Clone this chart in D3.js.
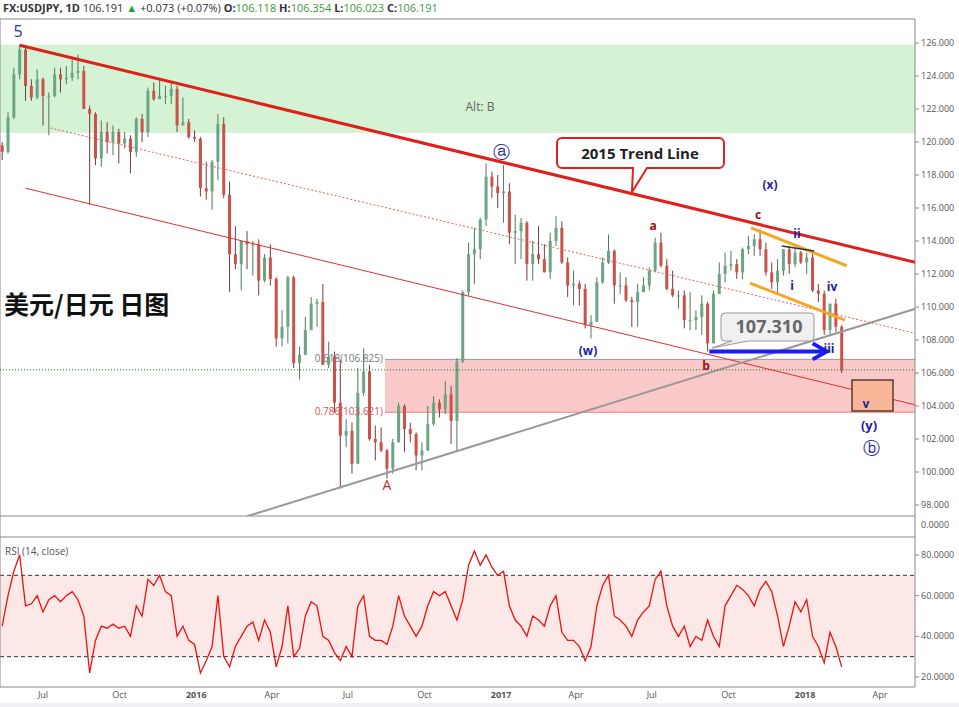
<!DOCTYPE html>
<html><head><meta charset="utf-8">
<script src="https://cdn.jsdelivr.net/npm/d3@7/dist/d3.min.js"></script>
<style>body{margin:0;background:#fff;font-family:"Open Sans",Arial,sans-serif}</style>
</head><body><svg id="c" width="959" height="707"></svg>
<script>
const firstWeek = "2015-05-11";
const ohlc = [
[119.8,120.0,118.9,119.4],[119.4,121.8,119.3,121.5],[121.5,124.5,121.4,124.1],[124.1,125.9,123.8,125.6],[125.6,125.8,122.5,123.4],[123.4,123.8,122.5,122.7],[122.7,124.4,122.6,123.8],[123.8,123.9,121.0,122.8],
[122.8,123.0,120.4,122.8],[122.8,124.5,122.7,124.1],[124.1,124.5,123.0,123.8],[123.8,124.6,123.5,123.9],[123.9,125.0,123.7,124.2],[124.2,125.3,123.8,124.3],[124.3,124.6,122.0,122.0],[122.0,122.2,116.2,121.7],[121.7,121.8,118.6,119.0],
[119.0,121.3,118.5,120.6],[120.6,121.2,119.3,120.0],[120.0,121.0,119.2,120.6],[120.6,120.8,118.7,119.9],[119.9,120.6,119.6,120.2],[120.2,120.4,118.1,119.4],[119.4,121.5,119.1,121.4],[121.4,121.7,120.0,120.6],
[120.6,123.3,120.3,123.1],[123.1,123.6,122.5,122.6],[122.6,123.8,122.6,122.8],[122.8,123.4,122.3,122.8],[122.8,123.7,122.3,123.2],[123.2,123.4,120.6,121.0],[121.0,122.7,121.0,121.2],[121.2,121.4,120.2,120.3],[120.3,120.7,120.0,120.2],
[120.2,120.3,116.7,117.2],[117.2,118.8,116.5,117.0],[117.0,118.9,115.9,118.8],[118.8,121.7,117.7,121.1],[121.1,121.5,116.6,116.8],[116.8,117.6,110.9,113.2],[113.2,114.9,112.3,112.6],[112.6,113.9,111.0,114.0],[114.0,114.6,112.3,113.8],
[113.8,114.0,111.9,113.8],[113.8,114.1,110.7,111.6],[111.6,113.2,111.5,113.0],[113.0,113.8,111.3,111.7],[111.7,111.8,107.6,108.1],[108.1,109.8,107.6,108.8],[108.8,111.9,107.8,111.8],[111.8,111.9,106.3,106.6],
[106.6,107.6,105.6,107.1],[107.1,109.4,107.1,108.6],[108.6,110.6,108.6,110.2],[110.2,110.5,108.8,110.3],[110.3,111.4,106.5,106.5],[106.5,107.9,106.3,107.0],[107.0,107.3,103.6,104.2],[104.2,106.8,99.0,102.2],[102.2,103.2,101.5,102.5],
[102.5,103.0,99.9,100.5],[100.5,106.3,100.5,104.8],[104.8,107.5,104.6,106.1],[106.1,106.5,101.9,102.0],[102.0,102.8,100.7,101.8],[101.8,102.7,101.2,101.3],[101.3,101.4,99.6,100.2],[100.2,102.0,99.9,101.8],[101.8,104.2,101.8,104.0],
[104.0,104.1,101.2,102.6],[102.6,103.0,101.8,102.3],[102.3,102.4,100.1,101.0],[101.0,101.8,100.1,101.3],[101.3,104.0,101.3,102.9],[102.9,104.6,102.8,104.2],[104.2,104.4,103.3,103.8],[103.8,105.5,103.5,104.7],[104.7,105.2,101.7,103.1],
[103.1,106.9,101.2,106.7],[106.7,111.0,106.6,110.9],[110.9,113.9,110.7,113.2],[113.2,114.8,111.4,113.5],[113.5,115.4,112.9,115.3],[115.3,118.7,114.9,117.9],[117.9,118.2,116.6,117.3],[117.3,118.0,116.0,116.9],
[116.9,118.6,115.1,117.0],[117.0,117.5,113.8,114.5],[114.5,115.6,112.6,114.6],[114.6,115.4,112.9,115.1],[115.1,115.2,111.6,112.6],[112.6,114.0,111.6,113.2],[113.2,114.9,112.6,112.9],[112.9,113.8,112.1,112.1],[112.1,114.5,111.7,114.0],
[114.0,115.5,113.7,114.8],[114.8,115.2,112.6,112.7],[112.7,113.0,110.6,111.3],[111.3,112.2,110.1,111.4],[111.4,111.6,110.1,111.1],[111.1,111.4,108.7,108.9],[108.9,109.5,108.1,109.1],[109.1,111.8,109.1,111.5],
[111.5,113.0,111.4,112.7],[112.7,114.4,112.6,113.4],[113.4,113.5,110.2,111.3],[111.3,112.1,110.8,111.3],[111.3,111.8,110.3,110.4],[110.4,110.6,108.8,110.3],[110.3,111.4,108.8,110.9],[110.9,111.8,110.9,111.3],[111.3,112.4,111.0,112.2],
[112.2,114.2,112.1,113.9],[113.9,114.5,112.4,112.5],[112.5,112.9,111.0,111.1],[111.1,112.2,110.6,110.7],[110.7,111.0,109.9,110.7],[110.7,111.0,108.7,109.2],[109.2,110.9,108.6,109.2],[109.2,109.8,108.6,109.4],[109.4,110.7,108.3,110.2],
[110.2,110.3,107.3,107.8],[107.8,111.0,107.8,110.8],[110.8,112.7,110.8,112.0],[112.0,113.3,111.5,112.5],[112.5,113.4,112.2,112.6],[112.6,112.9,111.7,112.1],[112.1,113.6,111.7,113.5],[113.5,114.3,113.2,113.7],[113.7,114.4,113.1,114.1],
[114.1,114.7,113.1,113.5],[113.5,113.9,111.9,112.1],[112.1,112.7,111.1,111.5],[111.5,112.9,110.8,112.2],[112.2,113.5,111.9,113.5],[113.5,113.7,112.0,112.6],[112.6,113.6,112.4,113.3],[113.3,113.4,112.6,112.7],
[112.7,113.3,112.0,113.0],[113.0,113.4,110.9,111.0],[111.0,111.4,110.3,110.8],[110.8,111.0,108.3,108.6],[108.6,110.2,108.3,110.2],[110.2,110.5,108.5,108.8],[108.8,108.9,106.0,106.2]];
const rsi = [45,60,72,80,55,56,60,52,58,60,57,60,62,58,50,22,38,45,44,46,44,45,40,55,50,68,65,70,62,60,40,45,38,36,
22,28,35,60,30,25,35,40,45,47,38,48,42,25,35,55,30,34,50,57,55,40,38,32,28,35,30,55,60,40,38,38,36,45,60,50,45,40,45,55,62,60,62,55,48,58,75,82,75,80,74,70,
72,55,48,45,40,50,48,45,55,60,42,38,38,35,28,35,55,65,70,50,48,45,40,48,52,55,68,72,55,45,40,45,35,40,38,48,40,35,55,60,65,63,60,55,63,67,62,50,35,45,57,52,
58,40,35,27,42,35,25];
const priceTicks = d3.range(98,127,2);
const rsiTicks = [20,40,60,80];
const monthTicks = ["2015-07-01","2015-10-01","2016-01-01","2016-04-01","2016-07-01","2016-10-01","2017-01-01","2017-04-01","2017-07-01","2017-10-01","2018-01-01","2018-04-01"];

const P = d3.timeParse("%Y-%m-%d");
const svg = d3.select("#c");
const W = 915;
const x = d3.scaleTime().domain([P("2015-07-01"),P("2018-04-01")]).range([43,880]);
const y = d3.scaleLinear().domain([98,126]).range([505,43]);
const yr = d3.scaleLinear().domain([20,80]).range([677,555]);
const t0 = P(firstWeek);
const data = ohlc.map((d,i)=>({date:d3.timeDay.offset(t0,i*7+2),o:d[0],h:d[1],l:d[2],c:d[3]}));

svg.append("text").attr("x",3).attr("y",12).attr("font-size",11).attr("fill","#333").html(
 '<tspan font-weight="bold">FX:USDJPY, 1D</tspan> 106.191 <tspan fill="#2a9d2a">▲</tspan> +0.073 (+0.07%) <tspan font-weight="bold">O:</tspan><tspan fill="#3a9a3a">106.118</tspan> <tspan font-weight="bold">H:</tspan><tspan fill="#3a9a3a">106.354</tspan> <tspan font-weight="bold">L:</tspan><tspan fill="#3a9a3a">106.023</tspan> <tspan font-weight="bold">C:</tspan><tspan fill="#3a9a3a">106.191</tspan>');

svg.append("clipPath").attr("id","cl").append("rect").attr("x",0).attr("y",19).attr("width",W).attr("height",497);
svg.append("rect").attr("x",0).attr("width",W).attr("height",y(120.55)-y(125.9)).attr("y",y(125.9)).attr("fill","#d4f2d4");
svg.append("text").attr("x",480).attr("y",111).attr("text-anchor","middle").attr("font-size",12).attr("fill","#666").text("Alt: B");
svg.append("rect").attr("x",385).attr("y",y(106.825)).attr("width",W-385).attr("height",y(103.621)-y(106.825)).attr("fill","#f9c9c9");
svg.append("line").attr("x1",385).attr("x2",W).attr("y1",y(106.825)).attr("y2",y(106.825)).attr("stroke","#999");
svg.append("line").attr("x1",385).attr("x2",W).attr("y1",y(103.621)).attr("y2",y(103.621)).attr("stroke","#f08080");

svg.append("rect").attr("x",0).attr("y",yr(70)).attr("width",W).attr("height",yr(30)-yr(70)).attr("fill","#fde8e8");
[70,30].forEach(v=>svg.append("line").attr("x1",0).attr("x2",W).attr("y1",yr(v)).attr("y2",yr(v)).attr("stroke","#333").attr("stroke-dasharray","4,3"));
svg.append("text").attr("x",5).attr("y",555).attr("font-size",10).attr("fill","#555").text("RSI (14, close)");

[[0,19,W,19],[0,516,W,516],[0,537,W,537],[0,687,W,687],[W,19,W,687],[0,19,0,687]].forEach(l=>svg.append("line").attr("x1",l[0]).attr("y1",l[1]).attr("x2",l[2]).attr("y2",l[3]).attr("stroke","#888"));

const g = svg.append("g").attr("clip-path","url(#cl)");
const cw = 3;
g.selectAll(".w").data(data).join("line").attr("x1",d=>x(d.date)).attr("x2",d=>x(d.date)).attr("y1",d=>y(d.h)).attr("y2",d=>y(d.l)).attr("stroke",d=>d.c>=d.o?"#4d7a5a":"#7a3a3a");
g.selectAll(".b").data(data).join("rect").attr("x",d=>x(d.date)-cw/2).attr("width",cw).attr("y",d=>y(Math.max(d.o,d.c))).attr("height",d=>Math.max(1,Math.abs(y(d.o)-y(d.c)))).attr("fill",d=>d.c>=d.o?"#6ba583":"#c9534a");

svg.append("text").attr("x",383).attr("y",y(106.825)+3).attr("text-anchor","end").attr("font-size",10).attr("fill","#777").text("0.618(106.825)");
svg.append("text").attr("x",383).attr("y",y(103.621)+3).attr("text-anchor","end").attr("font-size",10).attr("fill","#e05050").text("0.786(103.621)");

function ln(d1,p1,d2,p2,st,w,dash){const l=g.append("line").attr("x1",x(P(d1))).attr("y1",y(p1)).attr("x2",x(P(d2))).attr("y2",y(p2)).attr("stroke",st).attr("stroke-width",w);if(dash)l.attr("stroke-dasharray",dash);return l;}
ln("2015-06-03",125.86,"2018-05-14",112.7,"#e0201b",3);
ln("2015-07-10",120.85,"2018-05-14",108.4,"#e06060",1,"2,2");
ln("2015-06-10",117.2,"2018-05-14",104.06,"#e03030",1);
ln("2016-03-01",97.3,"2018-05-14",109.9,"#999",2);
ln("2017-10-28",114.8,"2018-02-20",112.5,"#f5a623",3);
ln("2017-10-27",111.45,"2018-02-18",109.2,"#f5a623",3);
ln("2017-12-04",113.7,"2018-01-12",113.4,"#333",1.5);
g.append("line").attr("x1",0).attr("x2",W).attr("y1",y(106.191)).attr("y2",y(106.191)).attr("stroke","#2e6b2e").attr("stroke-dasharray","1,2");

const ax1=x(P("2017-09-08")), ax2=x(P("2018-01-27")), ay=y(107.31);
svg.append("line").attr("x1",ax1).attr("x2",ax2-4).attr("y1",ay).attr("y2",ay).attr("stroke","#1a1aff").attr("stroke-width",4);
svg.append("path").attr("d",`M${ax2-14},${ay-8}L${ax2},${ay}L${ax2-14},${ay+8}`).attr("fill","none").attr("stroke","#1a1aff").attr("stroke-width",4);
svg.append("path").attr("d",`M725,313h85a4,4 0 0 1 4,4v20a4,4 0 0 1 -4,4h-62l-36,7l20,-7h-7a4,4 0 0 1 -4,-4v-20a4,4 0 0 1 4,-4z`).attr("fill","#f0f0f0").attr("stroke","#999");
svg.append("text").attr("x",769).attr("y",333).attr("text-anchor","middle").attr("font-size",18).attr("font-weight","bold").attr("fill","#666").text("107.310");
svg.append("path").attr("d",`M562,138h157a5,5 0 0 1 5,5v20a5,5 0 0 1 -5,5h-72l-15,24l1,-24h-71a5,5 0 0 1 -5,-5v-20a5,5 0 0 1 5,-5z`).attr("fill","#fff").attr("stroke","#e0201b").attr("stroke-width",2);
svg.append("text").attr("x",640).attr("y",159).attr("text-anchor","middle").attr("font-size",15).attr("font-weight","bold").attr("fill","#222").text("2015 Trend Line");
svg.append("rect").attr("x",852).attr("y",380).attr("width",41).attr("height",31).attr("fill","#f8b898").attr("stroke","#5a3a2a").attr("stroke-width",1.5);

function lab(t,px,py,col,sz,bold){svg.append("text").attr("x",px).attr("y",py).attr("text-anchor","middle").attr("font-size",sz).attr("font-weight",bold?"bold":"normal").attr("fill",col).text(t);}
const blue="#2020a0", dred="#a01010";
lab("5",18,37,"#3030b0",16);
lab("ⓐ",501,158,blue,17);
lab("(x)",770,189,blue,12,true);
lab("c",758,219,dred,12,true);
lab("a",653,230,dred,12,true);
lab("ii",797,238,blue,12,true);
lab("i",792,290,blue,12,true);
lab("iv",832,291,blue,12,true);
lab("iii",829,353,blue,12,true);
lab("(w)",588,355,blue,12,true);
lab("b",706,370,dred,12,true);
lab("A",387,490,"#c03030",14);
lab("v",866,408,blue,12,true);
lab("(y)",869,430,blue,13,true);
lab("ⓑ",871,454,blue,17);
svg.append("text").attr("x",4).attr("y",314).attr("font-size",25).attr("font-weight","bold").attr("fill","#111").attr("font-family","Noto Sans CJK SC").text("美元/日元 日图");

svg.append("path").datum(rsi).attr("d",d3.line().x((d,i)=>x(data[i].date)).y(d=>yr(d))).attr("fill","none").attr("stroke","#ee1111").attr("stroke-width",1.3);

const ra = svg.append("g").attr("font-size",9).attr("fill","#555");
priceTicks.forEach(v=>{ra.append("line").attr("x1",W).attr("x2",W+4).attr("y1",y(v)).attr("y2",y(v)).attr("stroke","#888");ra.append("text").attr("x",W+6).attr("y",y(v)+3).text(v.toFixed(3));});
rsiTicks.forEach(v=>{ra.append("line").attr("x1",W).attr("x2",W+4).attr("y1",yr(v)).attr("y2",yr(v)).attr("stroke","#888");ra.append("text").attr("x",W+6).attr("y",yr(v)+3).text(v.toFixed(4));});
ra.append("text").attr("x",W+6).attr("y",528).text("0.0000");
monthTicks.forEach(m=>{const d=P(m);const yrLab=d.getMonth()===0;svg.append("text").attr("x",x(d)).attr("y",698).attr("text-anchor","middle").attr("font-size",9).attr("font-weight",yrLab?"bold":"normal").attr("fill","#555").text(yrLab?d.getFullYear():d3.timeFormat("%b")(d));});
svg.append("rect").attr("x",0).attr("y",703).attr("width",959).attr("height",4).attr("fill","#eef0f3");
</script></body></html>
